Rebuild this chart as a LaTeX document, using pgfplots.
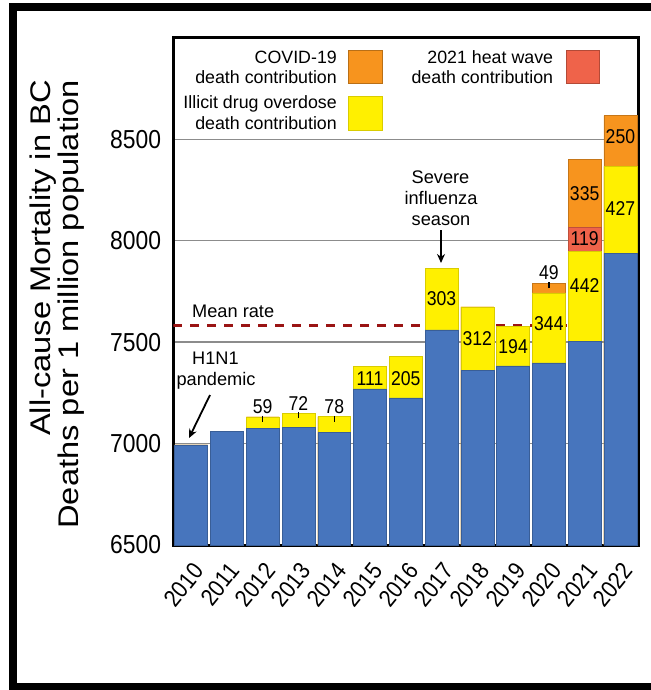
\documentclass[border=0pt]{standalone}
\usepackage{fontspec}
\setmainfont{Liberation Sans}
\newfontfamily\narrow{Liberation Sans}[FakeStretch=0.88]
\newfontfamily\vfont{Liberation Sans}[FakeStretch=1.15]
\usepackage{pgfplots}
\usepackage{pgfplotstable}
\usetikzlibrary{arrows.meta}
\pgfplotsset{compat=1.18}
\definecolor{cblue}{HTML}{4775BD}
\definecolor{cyellow}{HTML}{FFF000}
\definecolor{corange}{HTML}{F7941E}
\definecolor{cred}{HTML}{EF634A}
\definecolor{meanred}{HTML}{9A1414}
\definecolor{gridgray}{HTML}{8C8C8C}
\tikzset{numlab/.style={font=\narrow\fontsize{20pt}{20pt}\selectfont, inner sep=0pt}}

\pgfplotstableread{
x base drug heat covid
0 6993 0 0 0
1 7060 0 0 0
2 7073 59 0 0
3 7078 72 0 0
4 7055 78 0 0
5 7270 111 0 0
6 7225 205 0 0
7 7560 303 0 0
8 7362 312 0 0
9 7383 194 0 0
10 7398 344 0 49
11 7504 442 119 335
12 7939 427 0 250
}\datatable

\begin{document}
\begin{tikzpicture}[x=1pt,y=1pt]
\useasboundingbox (0,0) rectangle (650,-690);
\draw[line width=7.4pt] (665,-7) -- (13,-7) -- (13,-687) -- (665,-687);
\begin{axis}[
  at={(173.3pt,-545pt)}, anchor=south west,
  scale only axis, width=465pt, height=507.3pt,
  xmin=-0.5, xmax=12.5, ymin=6500, ymax=9000,
  xtick={0,...,12},
  xticklabels={2010,2011,2012,2013,2014,2015,2016,2017,2018,2019,2020,2021,2022},
  ytick={6500,7000,7500,8000,8500},
  yticklabels={6500,7000,7500,8000,8500},
  ymajorgrids, major grid style={draw=gridgray, line width=1.3pt},
  axis line style={line width=3pt},
  tick style={draw=none},
  yticklabel style={font=\narrow\fontsize{26pt}{26pt}\selectfont, inner sep=0pt, xshift=-12pt},
  xticklabel style={font=\narrow\fontsize{24pt}{24pt}\selectfont, inner sep=0pt, xshift=7.5pt, yshift=-21.5pt, anchor=east, rotate=51},
]
\addplot[forget plot, sharp plot, draw=meanred, line width=2.8pt, dash pattern=on 9pt off 8pt]
  coordinates {(-0.5,7582) (10.5,7582)};
\addplot[forget plot, ybar, bar width=0.92, bar shift=0pt, fill=corange, draw=corange!80!black, line width=0.5pt]
  table[x=x, y expr=\thisrow{base}+\thisrow{drug}+\thisrow{heat}+\thisrow{covid}] {\datatable};
\addplot[forget plot, ybar, bar width=0.92, bar shift=0pt, fill=cred, draw=cred!80!black, line width=0.5pt]
  table[x=x, y expr=\thisrow{base}+\thisrow{drug}+\thisrow{heat}] {\datatable};
\addplot[forget plot, ybar, bar width=0.92, bar shift=0pt, fill=cyellow, draw=cyellow!85!black, line width=0.5pt]
  table[x=x, y expr=\thisrow{base}+\thisrow{drug}] {\datatable};
\addplot[forget plot, ybar, bar width=0.92, bar shift=0pt, fill=cblue, draw=cblue!80!black, line width=0.5pt]
  table[x=x, y=base] {\datatable};

% value labels
\draw[line width=1.3pt] (axis cs:2,7137) -- (axis cs:2,7107);
\draw[line width=1.3pt] (axis cs:3,7155) -- (axis cs:3,7125);
\draw[line width=1.3pt] (axis cs:4,7136) -- (axis cs:4,7106);
\draw[line width=1.3pt] (axis cs:10,7794) -- (axis cs:10,7766);
\node[numlab] at (axis cs:2,7180) {59};
\node[numlab] at (axis cs:3,7198) {72};
\node[numlab] at (axis cs:4,7181) {78};
\node[numlab] at (axis cs:5,7322) {111};
\node[numlab] at (axis cs:6,7322) {205};
\node[numlab] at (axis cs:7,7716) {303};
\node[numlab] at (axis cs:8,7518) {312};
\node[numlab] at (axis cs:9,7480) {194};
\node[numlab] at (axis cs:10,7590) {344};
\node[numlab] at (axis cs:10,7840) {49};
\node[numlab] at (axis cs:11,7778) {442};
\node[numlab] at (axis cs:11,8010) {119};
\node[numlab] at (axis cs:11,8232) {335};
\node[numlab] at (axis cs:12,8160) {427};
\node[numlab] at (axis cs:12,8515) {250};
\end{axis}

% y axis label
\node[font=\vfont\fontsize{28.4pt}{28.4pt}\selectfont, rotate=90, anchor=base east, inner sep=0pt] at (50,-80) {All-cause Mortality in BC};
\node[font=\vfont\fontsize{28.4pt}{28.4pt}\selectfont, rotate=90, anchor=base east, inner sep=0pt] at (78,-80) {Deaths per 1 million population};

% legend
\fill[corange, draw=corange!75!black, line width=0.6pt] (348.3,-50) rectangle (382.7,-83.3);
\fill[cyellow, draw=cyellow!85!black, line width=0.6pt] (348.3,-96.7) rectangle (382.7,-130);
\fill[cred, draw=cred!75!black, line width=0.6pt] (566,-50.7) rectangle (599.3,-83.3);
\begin{scope}[every node/.style={font=\fontsize{17.8pt}{20pt}\selectfont, inner sep=0pt, anchor=base east}]
\node at (337,-63.3) {COVID-19};
\node at (337,-83.3) {death contribution};
\node at (337,-108.3) {Illicit drug overdose};
\node at (337,-129.3) {death contribution};
\node at (553.3,-63.3) {2021 heat wave};
\node at (553.3,-83.3) {death contribution};
\end{scope}

% annotations
\begin{scope}[every node/.style={font=\fontsize{18.2pt}{20pt}\selectfont, inner sep=0pt, anchor=base}]
\node[anchor=base west] at (192,-317.5) {Mean rate};
\node at (215.5,-364) {H1N1};
\node at (216,-385) {pandemic};
\node at (440.5,-183.3) {Severe};
\node at (441,-204) {influenza};
\node at (441,-225) {season};
\end{scope}
\draw[line width=1.8pt, -{Stealth[length=9pt,width=8pt]}] (441,-230) -- (441,-263);
\draw[line width=1.8pt, -{Stealth[length=9pt,width=8pt]}] (210,-395) -- (189,-438);
\end{tikzpicture}
\end{document}
